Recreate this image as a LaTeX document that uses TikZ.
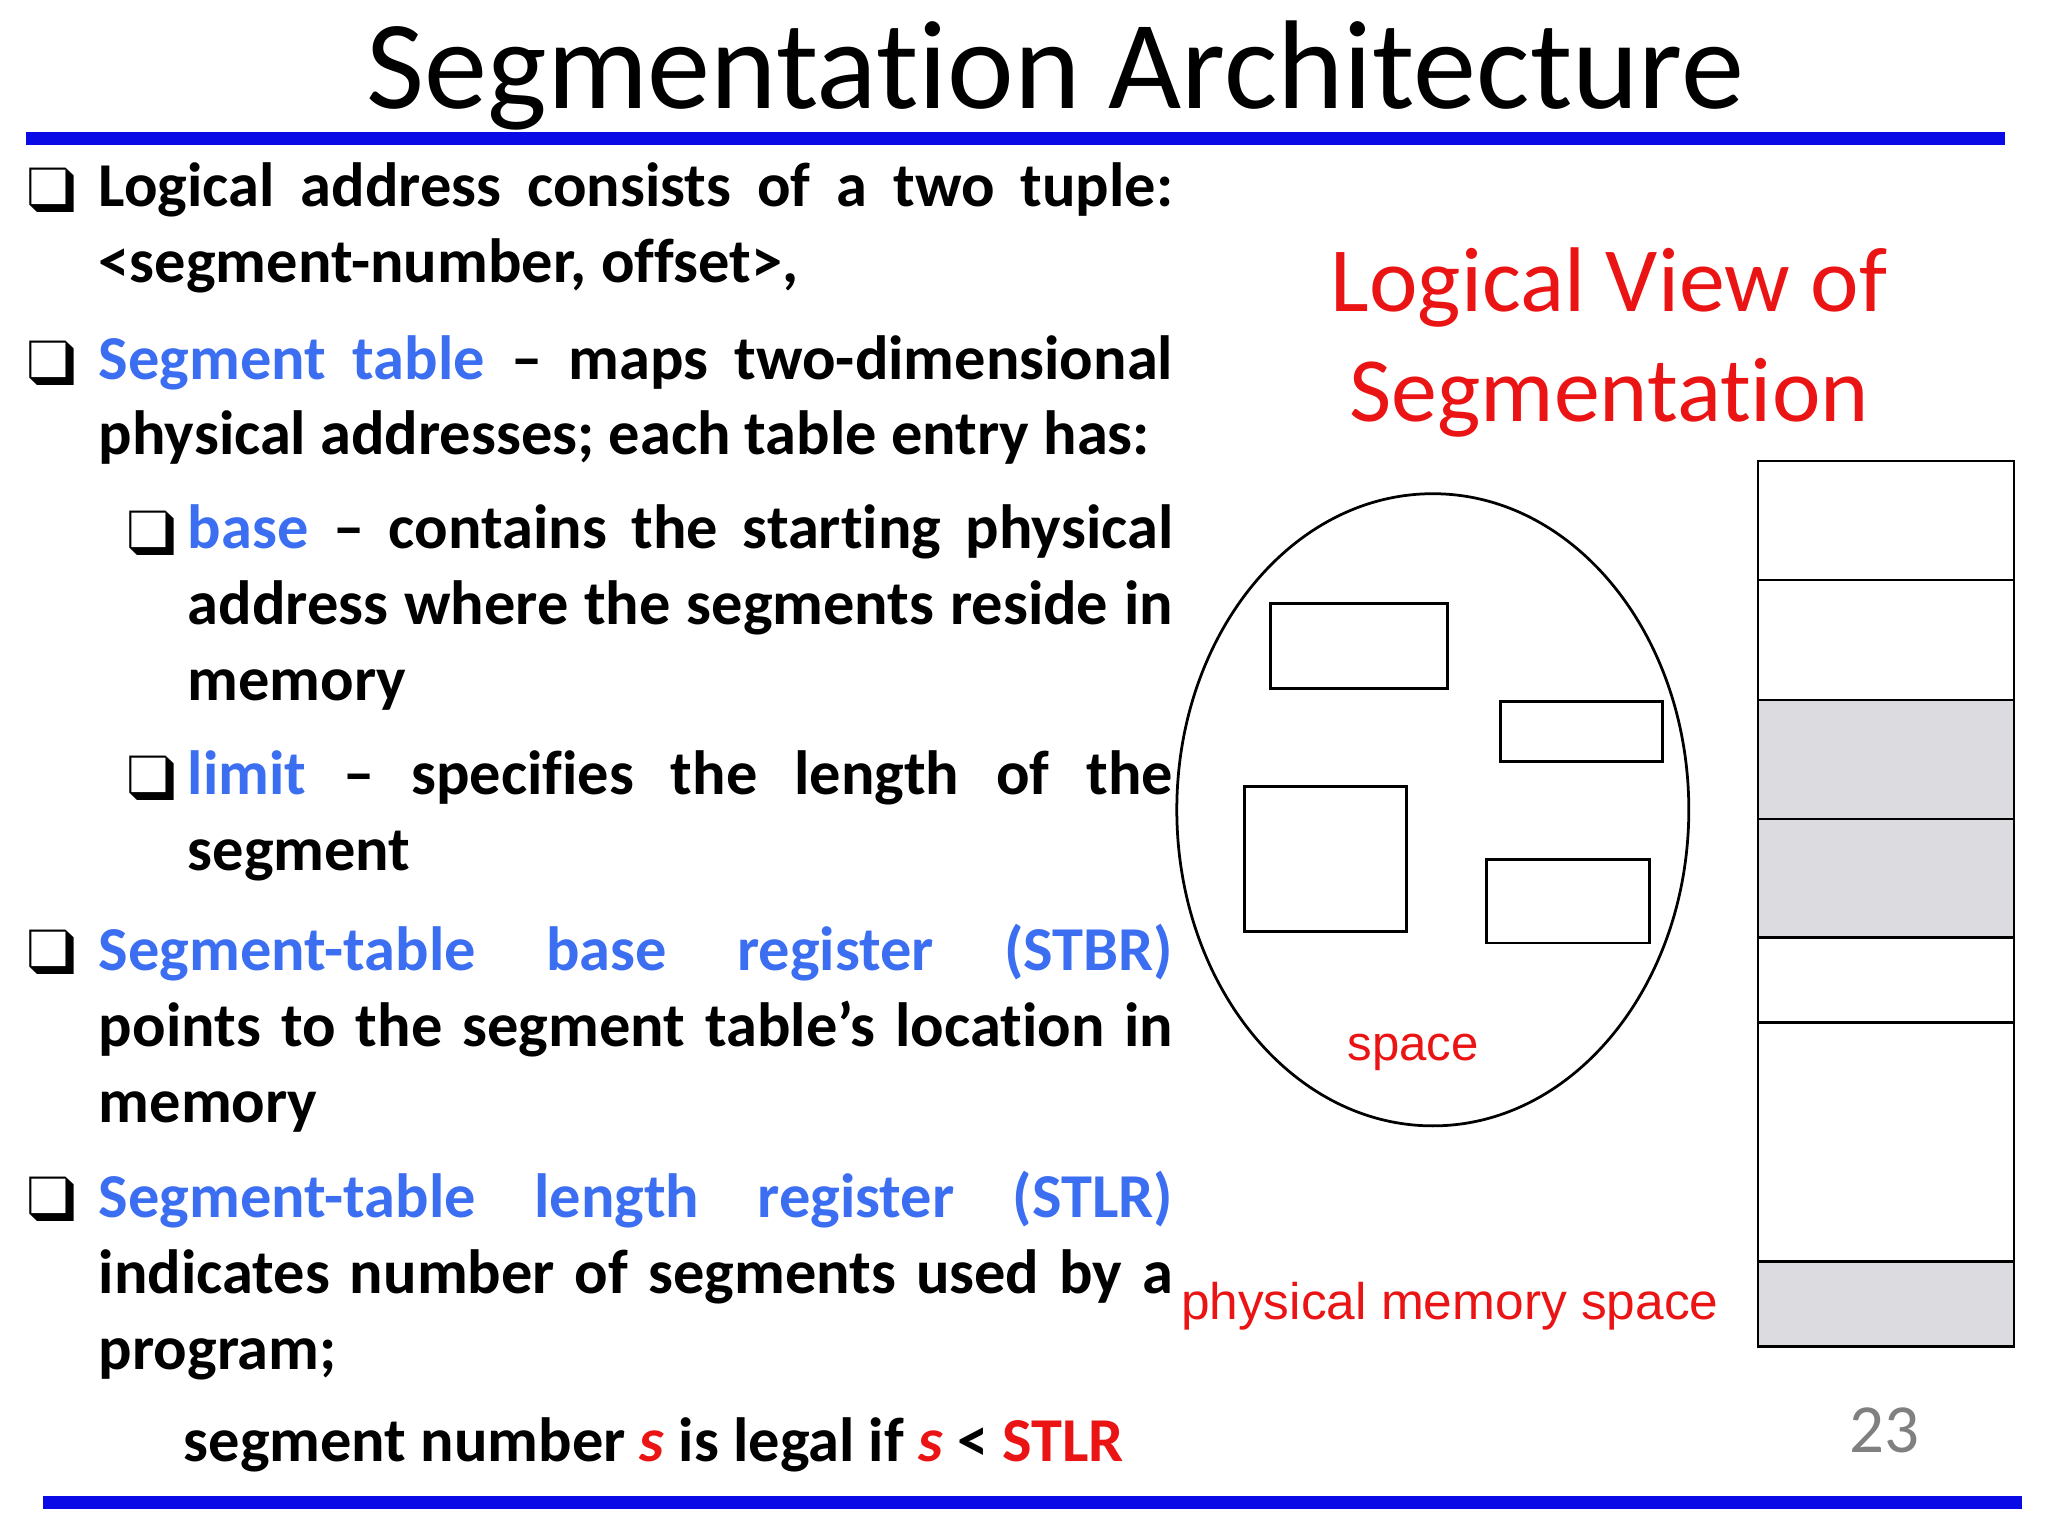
\documentclass[tikz,border=0pt]{standalone}
\usepackage{fontspec}
\setmainfont{Carlito}[Ligatures=NoCommon]
\newfontfamily\arialf{Liberation Sans}
\usepackage{pifont}
\hyphenpenalty=10000
\exhyphenpenalty=10000
\definecolor{tblue}{RGB}{59,110,240}
\definecolor{lineblue}{RGB}{10,10,230}
\definecolor{tred}{RGB}{235,20,20}
\definecolor{segray}{RGB}{220,220,224}
\begin{document}
\begin{tikzpicture}[x=0.01cm,y=-0.01cm,
  para/.style={anchor=north west,inner sep=0pt,align=justify,font=\fontsize{13.6}{16.5}\selectfont\bfseries},
  box/.style={draw,line width=0.6pt},
  bul/.style={anchor=north west,inner sep=0pt,font=\fontsize{14}{16}\selectfont}]
\useasboundingbox (0,0) rectangle (1568,1176);
\fill[white] (0,0) rectangle (1568,1176);
\node (title) at (808,58) {\fontsize{27.5}{30}\selectfont Segmentation Architecture};
\fill[lineblue] (20,101) rectangle (1535,111);
\fill[lineblue] (33,1145) rectangle (1548,1155);
% bullets
\foreach \yy/\xx in {128/20,260/20,390/97,578/97,711/20,900/20}
  \node[bul] at (\xx,\yy) {\ding{113}};
\node[para,text width=8.22cm] (p1) at (75,124) {Logical address consists of a two tuple:\linebreak <segment-number, offset>,};
\node[para,text width=8.22cm] (p2) at (75,256) {\textcolor{tblue}{Segment table} -- maps two-dimensional\linebreak physical addresses; each table entry has:};
\node[para,text width=7.54cm] (p3) at (143,386) {\textcolor{tblue}{base} -- contains the starting physical\linebreak address where the segments reside in\linebreak memory};
\node[para,text width=7.54cm] (p4) at (143,574) {\textcolor{tblue}{limit} -- specifies the length of the\linebreak segment};
\node[para,text width=8.22cm] (p5) at (75,707) {\textcolor{tblue}{Segment-table base register (STBR)}\linebreak points to the segment table’s location in\linebreak memory};
\node[para,text width=8.22cm] (p6) at (75,896) {\textcolor{tblue}{Segment-table length register (STLR)}\linebreak indicates number of segments used by a\linebreak program;};
\node[para,anchor=west] (p7) at (140,1106) {segment number \textcolor{tred}{\textit{s}} is legal if \textcolor{tred}{\textit{s}} < \textcolor{tred}{STLR}};
% right side
\node[text=tred,align=center,font=\fontsize{20}{23.9}\selectfont] (lv) at (1232,262) {Logical View of\\Segmentation};
\draw[line width=0.6pt] (1097,620) ellipse (196 and 242);
\draw[box] (973,462) rectangle (1108,527);
\draw[box] (1149,537) rectangle (1273,583);
\draw[box] (953,602) rectangle (1077,713);
\draw[box] (1138,658) rectangle (1263,722);
\node[text=tred,font=\arialf\fontsize{10.7}{12}\selectfont] (sp) at (1082,806) {space};
\fill[segray] (1346,536) rectangle (1542,718);
\fill[segray] (1346,966) rectangle (1542,1031);
\draw[box] (1346,353) rectangle (1542,1031);
\foreach \yy in {444,536,627,718,783,966} \draw[box] (1346,\yy) -- (1542,\yy);
\node[text=tred,font=\arialf\fontsize{11.2}{12}\selectfont] (pm) at (1110,1000) {physical memory space};
\node[text=gray,font=\fontsize{15}{18}\selectfont] (pg) at (1443,1095) {23};
\end{tikzpicture}
\end{document}
